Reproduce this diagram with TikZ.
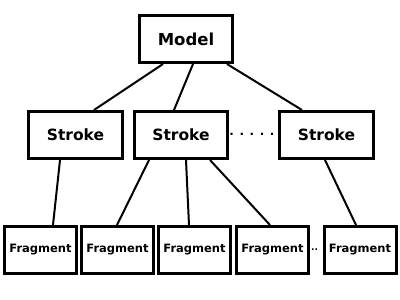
\documentclass[tikz,border=0pt]{standalone}
\usepackage{fontspec}
\setmainfont{DejaVu Sans}
\usepackage{tikz}
\usetikzlibrary{positioning,calc}

\begin{document}
\begin{tikzpicture}[x=1pt, y=-1pt,
    topbox/.style={draw, line width=3pt, minimum width=93pt, minimum height=47pt,
                   inner sep=0pt, font=\fontsize{15.5}{15.5}\selectfont\bfseries},
    fragbox/.style={draw, line width=3pt, minimum width=72pt, minimum height=47pt,
                    inner sep=0pt, font=\fontsize{11.5}{11.5}\selectfont\bfseries},
    link/.style={line width=2pt}]
    \useasboundingbox (0,0) rectangle (400,300);
    % tree levels
    \node[topbox, font=\fontsize{16.5}{16.5}\selectfont\bfseries] (model) at (186,39) {Model};
    \node[topbox, minimum width=94pt] (strokeA) at (75.5,135) {Stroke};
    \node[topbox] (strokeB) at (181,135) {Stroke};
    \node[topbox, minimum width=94pt] (strokeC) at (326.5,135) {Stroke};
    \node[font=\fontsize{12}{12}\selectfont\bfseries] (strokedots) at (252,134) {. . . . .};
    \node[fragbox] (fragA) at (40.5,250) {Fragment};
    \node[fragbox] (fragB) at (117.5,250) {Fragment};
    \node[fragbox] (fragC) at (194.5,250) {Fragment};
    \node[fragbox] (fragD) at (272.5,250) {Fragment};
    \node[fragbox] (fragE) at (360,250) {Fragment};
    \node[font=\fontsize{9}{9}\selectfont\bfseries, inner sep=0pt] (fragdots) at (314.5,250) {..};
    % connectors
    \draw[link] ([xshift=-23pt]model.south) -- ([xshift=18.5pt]strokeA.north);
    \draw[link] ([xshift=7pt]model.south) -- ([xshift=-7pt]strokeB.north);
    \draw[link] ([xshift=41pt]model.south) -- ([xshift=-24.5pt]strokeC.north);
    \draw[link] ([xshift=-15.5pt]strokeA.south) -- ([xshift=12.5pt]fragA.north);
    \draw[link] ([xshift=-32pt]strokeB.south) -- ([xshift=-0.5pt]fragB.north);
    \draw[link] ([xshift=5pt]strokeB.south) -- ([xshift=-5.5pt]fragC.north);
    \draw[link] ([xshift=29pt]strokeB.south) -- ([xshift=-2.5pt]fragD.north);
    \draw[link] ([xshift=-1.5pt]strokeC.south) -- ([xshift=-4pt]fragE.north);
\end{tikzpicture}
\end{document}
